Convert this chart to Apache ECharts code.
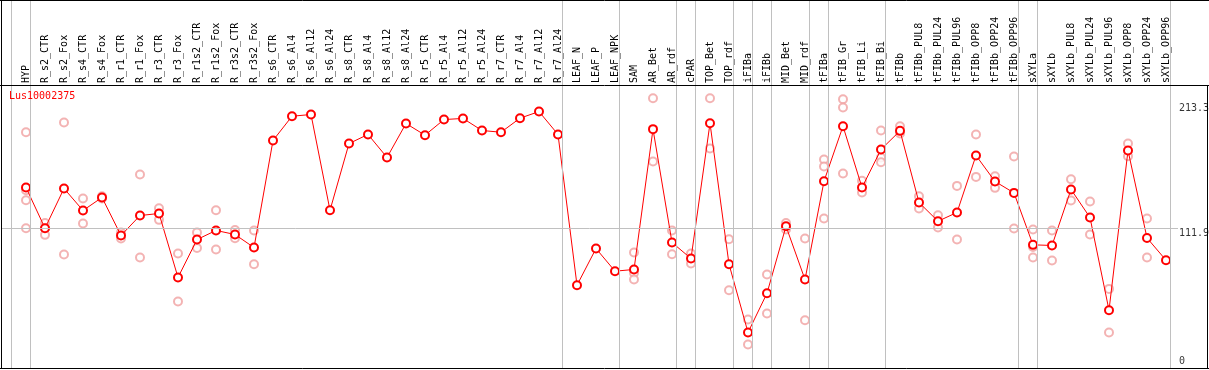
<!DOCTYPE html>
<html><head><meta charset="utf-8">
<script src="https://cdn.jsdelivr.net/npm/echarts@6/dist/echarts.min.js"></script>
<style>html,body{margin:0;padding:0;background:#fff}#c{width:1209px;height:370px}</style>
</head><body><div id="c"></div>
<script>
const title = 'Lus10002375';
const categories = ['HYP','R_s2_CTR','R_s2_Fox','R_s4_CTR','R_s4_Fox','R_r1_CTR','R_r1_Fox','R_r3_CTR','R_r3_Fox','R_r1s2_CTR','R_r1s2_Fox','R_r3s2_CTR','R_r3s2_Fox','R_s6_CTR','R_s6_Al4','R_s6_Al12','R_s6_Al24','R_s8_CTR','R_s8_Al4','R_s8_Al12','R_s8_Al24','R_r5_CTR','R_r5_Al4','R_r5_Al12','R_r5_Al24','R_r7_CTR','R_r7_Al4','R_r7_Al12','R_r7_Al24','LEAF_N','LEAF_P','LEAF_NPK','SAM','AR_Bet','AR_rdf','cPAR','TOP_Bet','TOP_rdf','iFIBa','iFIBb','MID_Bet','MID_rdf','tFIBa','tFIB_Gr','tFIB_Li','tFIB_Bi','tFIBb','tFIBb_PUL8','tFIBb_PUL24','tFIBb_PUL96','tFIBb_OPP8','tFIBb_OPP24','tFIBb_OPP96','sXYLa','sXYLb','sXYLb_PUL8','sXYLb_PUL24','sXYLb_PUL96','sXYLb_OPP8','sXYLb_OPP24','sXYLb_OPP96'];
const means = [145.2,112.1,144.4,126.5,137.1,106.2,122.4,124.1,72.1,102.9,110.3,107.0,96.4,183.4,203.1,204.5,126.7,180.9,188.3,169.6,197.2,187.7,200.4,201.3,191.5,190.1,201.5,206.9,188.3,65.8,95.6,77.2,78.6,192.6,100.5,87.5,197.4,82.9,27.4,59.3,113.7,70.4,150.3,195.0,145.2,176.1,191.2,133.0,117.8,124.9,171.2,150.1,140.8,98.6,98.1,143.6,120.8,45.5,175.3,104.2,86.1];
const replicates = [
 [190.1,143.0,134.9,112.1],[116.4,112.1,106.7],[198.0,90.8],[136.3,115.9],[138.0,136.2],
 [108.6,103.8],[155.8,88.3],[128.4,118.9],[91.6,52.6],[108.6,96.1],[126.7,94.8],[110.7,104.0],[110.3,82.9],
 [],[],[],[],[],[],[],[],[],[],[],[],[],[],[],[],[],[],[],
 [92.4,75.8,70.4],[217.7,166.3],[110.3,91.0],[91.6,83.4],[217.7,176.9],[103.2,61.7],[37.9,17.6],[74.5,42.8],
 [116.4,111.1],[103.8,37.4],[167.9,162.3,120.0],[216.9,210.2,156.6],[150.6,141.1],[191.5,169.6,165.7],[195.0,189.1],
 [138.1,128.1],[122.7,112.7],[146.5,102.9],[188.3,153.8],[154.4,144.9],[170.4,111.9],
 [111.1,96.9,88.3],[110.3,85.9],[151.9,134.6],[133.8,107.0],[62.8,27.4],[180.9,170.6],[120.0,88.3],[]
];
const separatorsAfter = [-1,0,28,31,34,35,37,38,39,41,42,45,52,53,60];
const yTickLabels = [213.3, 111.9, 0];
const gridLineValue = 111.9;

const STEP = 19, X0 = 26, GL = 1, GW = 1177;
const xMin = -(X0 - GL) / STEP, xMax = xMin + GW / STEP;
const ZERO_Y = 366.2, KY = 1.2308, GT = 0, GH = 369;
const yMin = (ZERO_Y - (GT + GH)) / KY, yMax = (ZERO_Y - GT) / KY;
const SEP_OFF = 4.5 / STEP;

const meanData = means.map((v, i) => [i, v]);
const repData = [];
replicates.forEach((arr, i) => arr.forEach(v => repData.push([i, v])));

const mono = 'DejaVu Sans Mono';
const chart = echarts.init(document.getElementById('c'), null, {renderer: 'canvas'});
const blk = {stroke: '#000', lineWidth: 1};
chart.setOption({
  animation: false,
  backgroundColor: '#fff',
  title: {text: title, left: 9, top: 91, padding: 0,
    textStyle: {color: '#ff0000', fontSize: 10, fontFamily: mono, fontWeight: 'normal'}},
  grid: [
    {left: GL, top: GT, width: GW, height: GH, containLabel: false},
    {left: X0 - STEP / 2, top: 85, width: STEP * categories.length, height: 10, containLabel: false}
  ],
  xAxis: [
    {type: 'value', gridIndex: 0, min: xMin, max: xMax, show: false},
    {type: 'category', gridIndex: 1, position: 'top', data: categories, boundaryGap: true,
      axisLine: {show: false}, axisTick: {show: false}, splitLine: {show: false},
      axisLabel: {interval: 0, rotate: 90, margin: 2, color: '#000', fontSize: 10, fontFamily: mono}}
  ],
  yAxis: [
    {type: 'value', gridIndex: 0, min: yMin, max: yMax, show: false},
    {type: 'value', gridIndex: 1, show: false}
  ],
  series: [
    {type: 'line', xAxisIndex: 0, yAxisIndex: 0, data: [], z: 1, silent: true,
      markLine: {silent: true, symbol: 'none', animation: false,
        lineStyle: {color: '#c0c0c0', width: 1, type: 'solid'},
        label: {show: false},
        data: separatorsAfter.map(s => ({xAxis: s + SEP_OFF})).concat([{yAxis: gridLineValue}])
      }},
    {type: 'scatter', xAxisIndex: 0, yAxisIndex: 0, z: 5, silent: true, clip: false,
      symbolSize: 0,
      data: yTickLabels.map(v => ({value: [xMax, v],
        label: {verticalAlign: v === 0 ? 'bottom' : 'top'}})),
      label: {show: true, position: 'right', distance: 1, color: '#000', fontSize: 10,
        fontFamily: mono, align: 'left', formatter: p => String(p.value[1])}},
    {type: 'scatter', xAxisIndex: 0, yAxisIndex: 0, data: repData, z: 2,
      symbol: 'emptyCircle', symbolSize: 8,
      itemStyle: {color: '#f0a0a0', borderColor: '#f0a0a0', borderWidth: 1.2}},
    {type: 'line', xAxisIndex: 0, yAxisIndex: 0, data: meanData, z: 3,
      symbol: 'emptyCircle', symbolSize: 8, showAllSymbol: true,
      lineStyle: {color: '#ff0000', width: 1},
      itemStyle: {color: '#ff0000', borderColor: '#ff0000', borderWidth: 1.5}}
  ],
  graphic: [
    {type: 'line', shape: {x1: 0, y1: 0.5, x2: 1209, y2: 0.5}, style: blk, z: 100},
    {type: 'line', shape: {x1: 0, y1: 85.5, x2: 1209, y2: 85.5}, style: blk, z: 100},
    {type: 'line', shape: {x1: 1.5, y1: 0, x2: 1.5, y2: 369}, style: blk, z: 100},
    {type: 'line', shape: {x1: 0, y1: 368.5, x2: 1209, y2: 368.5}, style: blk, z: 100},
    {type: 'line', shape: {x1: 1207.5, y1: 85, x2: 1207.5, y2: 369}, style: blk, z: 100}
  ]
});
</script></body></html>
